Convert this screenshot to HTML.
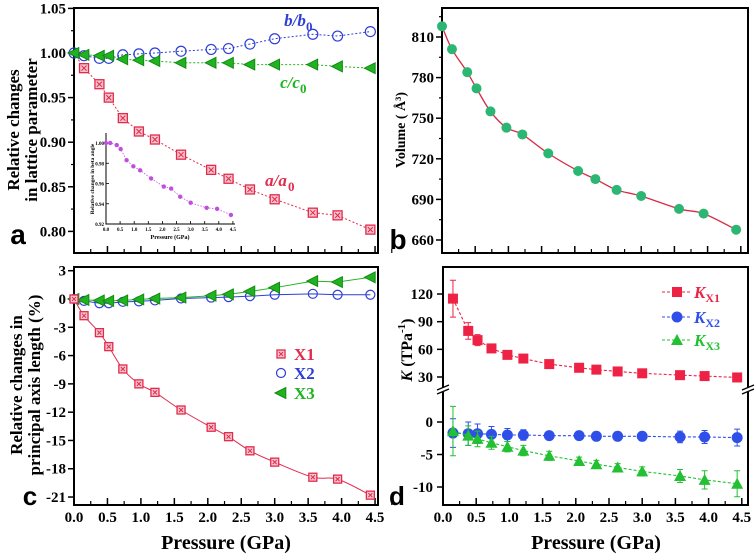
<!DOCTYPE html>
<html><head><meta charset="utf-8">
<style>
body{margin:0;background:#fff;}
svg{display:block;font-family:"Liberation Serif",serif;font-weight:bold;}
.sans{font-family:"Liberation Sans",sans-serif;}
</style></head>
<body>
<svg id="fig" width="756" height="555" viewBox="0 0 756 555" xmlns="http://www.w3.org/2000/svg"></svg>
<script>
// ---------- data ----------
const pressure = [0.15,0.38,0.52,0.73,0.97,1.21,1.6,2.05,2.31,2.63,3.0,3.57,3.94,4.43];
const pressure0 = [0].concat(pressure);
const aRel = [1.0,0.983,0.965,0.950,0.927,0.912,0.903,0.886,0.869,0.859,0.847,0.836,0.821,0.818,0.802];
const bRel = [1.0,0.997,0.994,0.994,0.998,0.999,1.0,1.002,1.004,1.005,1.010,1.016,1.021,1.019,1.024];
const cRel = [1.0,0.998,0.997,0.997,0.993,0.992,0.991,0.989,0.989,0.989,0.987,0.987,0.987,0.985,0.983];
const betaRel = [1.0,1.0,0.998,0.994,0.983,0.977,0.973,0.965,0.957,0.955,0.947,0.941,0.936,0.935,0.929];
const volume = [817.9,801,784,772,755,743,738,724,711,705,697,692.5,683,679.5,667.6];
const x1 = [0,-1.77,-3.57,-5.05,-7.42,-9.0,-9.9,-11.77,-13.6,-14.6,-16.1,-17.3,-18.9,-19.1,-20.8];
const x2 = [0,-0.2,-0.45,-0.45,-0.3,-0.25,-0.15,0.05,0.15,0.2,0.3,0.45,0.55,0.45,0.45];
const x3 = [0,-0.1,-0.15,-0.2,-0.15,-0.05,0.05,0.15,0.35,0.5,0.8,1.2,1.9,1.8,2.3];
const k1 = [115,80,70,61,54,50,44,40,38,36,34,32,31,29.5];
const k1err = [20,9,6,3,2,2,2,2,2,2,2,2,2,2];
const k2 = [-1.7,-1.8,-1.8,-1.9,-2.0,-2.0,-2.1,-2.1,-2.2,-2.2,-2.2,-2.3,-2.3,-2.4];
const k2err = [2.2,1.8,1.5,1.2,1.0,0.8,0.5,0.5,0.5,0.5,0.6,0.9,1.0,1.3];
const k3 = [-1.4,-2.1,-2.6,-3.2,-3.8,-4.4,-5.2,-6.0,-6.5,-7.0,-7.6,-8.3,-8.9,-9.5];
const k3err = [3.8,1.5,1.2,1.0,0.8,0.8,0.7,0.6,0.6,0.6,0.7,1.0,1.4,2.0];
const xTicks = [0,0.5,1,1.5,2,2.5,3,3.5,4,4.5];
const xTickLabels = ["0.0","0.5","1.0","1.5","2.0","2.5","3.0","3.5","4.0","4.5"];
const aTicks = [1.05,1.00,0.95,0.90,0.85,0.80];
const bTicks = [810,780,750,720,690,660];
const cTicks = [3,0,-3,-6,-9,-12,-15,-18,-21];
const dUpperTicks = [120,90,60,30];
const dLowerTicks = [0,-5,-10];
const insetYTicks = [1.00,0.98,0.96,0.94,0.92];
const insetXTicks = [0,0.5,1,1.5,2,2.5,3,3.5,4,4.5];

// ---------- scales ----------
const xa = p => 74 + p*66.9;
const ya = v => 53 + (1-v)/0.05*44.6;
const xb = p => 442 + p*66.4;
const yb = v => 37 + (810-v)*1.3533;
const xc = xa;
const yc = v => 299 - v*9.43;
const xd = p => 443 + p*66.4;
const yd = v => v >= 15 ? 377 - (v-30)*0.922 : 422 - v*6.5;
const xi = p => 106 + p*28.2;
const yi = v => 143 + (1-v)/0.02*20.25;

const RED="#e22a4c", BLUE="#2f3fd6", GREEN="#1fb41f", TEAL="#2bb673", PURP="#c04fe0";
const svg = document.getElementById('fig');
const NS="http://www.w3.org/2000/svg";
function mk(tag, attrs, parent){
  const e=document.createElementNS(NS,tag);
  for(const k in attrs) e.setAttribute(k,attrs[k]);
  (parent||svg).appendChild(e); return e;
}
function txt(s,x,y,size,anchor,fill,parent){
  const t=mk('text',{x:x,y:y,'font-size':size,'text-anchor':anchor||'middle',fill:fill||'#000'},parent);
  t.textContent=s; return t;
}
function smooth(pts){
  let d=`M${pts[0][0]},${pts[0][1]}`;
  for(let i=0;i<pts.length-1;i++){
    const p0=pts[Math.max(0,i-1)],p1=pts[i],p2=pts[i+1],p3=pts[Math.min(pts.length-1,i+2)];
    const c1=[p1[0]+(p2[0]-p0[0])/6,p1[1]+(p2[1]-p0[1])/6];
    const c2=[p2[0]-(p3[0]-p1[0])/6,p2[1]-(p3[1]-p1[1])/6];
    d+=` C${c1[0]},${c1[1]} ${c2[0]},${c2[1]} ${p2[0]},${p2[1]}`;
  }
  return d;
}
function poly(xs,ys,fx,fy){return xs.map((p,i)=>`${fx(p)},${fy(ys[i])}`).join(' ');}
function sqX(g,x,y,s,stroke,fill){
  mk('rect',{x:x-s/2,y:y-s/2,width:s,height:s,fill:fill,stroke:stroke,'stroke-width':1.3},g);
  mk('path',{d:`M${x-s/2+2},${y-s/2+2}L${x+s/2-2},${y+s/2-2}M${x+s/2-2},${y-s/2+2}L${x-s/2+2},${y+s/2-2}`,stroke:stroke,'stroke-width':1},g);
}
function triL(g,x,y,r,fill,stroke){
  mk('polygon',{points:`${x-r},${y} ${x+r*0.8},${y-r*0.9} ${x+r*0.8},${y+r*0.9}`,fill:fill,stroke:stroke,'stroke-width':1},g);
}
function frame(g,x0,y0,x1,y1){
  mk('rect',{x:x0,y:y0,width:x1-x0,height:y1-y0,fill:'none',stroke:'#000','stroke-width':2},g);
}
function xAxisTicks(g,fx,y,labels){
  xTicks.forEach((p,i)=>{
    mk('line',{x1:fx(p),y1:y,x2:fx(p),y2:y-7,stroke:'#000','stroke-width':1.5},g);
    mk('line',{x1:fx(p+0.25),y1:y,x2:fx(p+0.25),y2:y-4,stroke:'#000','stroke-width':1.2},g);
    if(labels) txt(xTickLabels[i],fx(p),y+17,15,'middle','#000',g);
  });
}

// ================= Panel A =================
const gA=mk('g',{});


frame(gA,74,8,378,253);
aTicks.forEach(v=>{
  mk('line',{x1:68,y1:ya(v),x2:74,y2:ya(v),stroke:'#000','stroke-width':1.5},gA);
  txt(v.toFixed(2),66,ya(v)+5,15,'end','#000',gA);
});
[1.025,0.975,0.925,0.875,0.825].forEach(v=>mk('line',{x1:71,y1:ya(v),x2:74,y2:ya(v),stroke:'#000','stroke-width':1.2},gA));
xAxisTicks(gA,xa,253,false);
const yta=mk('text',{transform:'translate(19,130) rotate(-90)','font-size':17,'text-anchor':'middle'},gA);
yta.textContent='Relative changes';

const yta2=mk('text',{transform:'translate(37,130) rotate(-90)','font-size':17,'text-anchor':'middle'},gA);
yta2.textContent='in lattice parameter';
mk('polyline',{points:poly(pressure0,bRel,xa,ya),fill:'none',stroke:BLUE,'stroke-width':1,'stroke-dasharray':'2,2'},gA);
mk('polyline',{points:poly(pressure0,cRel,xa,ya),fill:'none',stroke:GREEN,'stroke-width':1,'stroke-dasharray':'2,2'},gA);
mk('polyline',{points:poly(pressure0,aRel,xa,ya),fill:'none',stroke:RED,'stroke-width':1,'stroke-dasharray':'2,2'},gA);
pressure0.forEach((p,i)=>{
  const c=mk('circle',{cx:xa(p),cy:ya(bRel[i]),r:5,fill:'none',stroke:BLUE,'stroke-width':1.2},gA);
  
  
});
pressure0.forEach((p,i)=>{ triL(gA,xa(p),ya(cRel[i]),6,GREEN,'#138a13'); });
pressure0.forEach((p,i)=>{ if(i>0) sqX(gA,xa(p),ya(aRel[i]),9,RED,'#f6c4cd'); });
const lb=txt('b/b',295,26,17,'middle',BLUE,gA); lb.setAttribute('font-style','italic');
txt('0',306,31,13,'start',BLUE,gA);
const lc=txt('c/c',290,88,17,'middle',GREEN,gA); lc.setAttribute('font-style','italic');
txt('0',300,93,13,'start',GREEN,gA);
const la=txt('a/a',276,186,17,'middle',RED,gA); la.setAttribute('font-style','italic');
txt('0',288,191,13,'start',RED,gA);
const letA=txt('a',18,244,28,'middle','#000',gA); letA.setAttribute('class','sans');
// inset
const gI=mk('g',{},gA);


mk('path',{d:'M106,133 L106,224 L235,224',fill:'none',stroke:'#000','stroke-width':1},gI);
insetYTicks.forEach(v=>{
  mk('line',{x1:106,y1:yi(v),x2:109,y2:yi(v),stroke:'#000','stroke-width':0.8},gI);
  txt(v.toFixed(2),104,yi(v)+2,5,'end','#000',gI);
});
insetXTicks.forEach(p=>{
  mk('line',{x1:xi(p),y1:224,x2:xi(p),y2:221,stroke:'#000','stroke-width':0.8},gI);
  txt(p.toFixed(1),xi(p),231,5,'middle','#000',gI);
});
txt('Pressure (GPa)',170,239,6,'middle','#000',gI);
const yti=mk('text',{transform:'translate(94,179) rotate(-90)','font-size':5.5,'text-anchor':'middle'},gI);
yti.textContent='Relative changes in beta angle';
mk('polyline',{points:poly(pressure0,betaRel,xi,yi),fill:'none',stroke:PURP,'stroke-width':0.8,'stroke-dasharray':'1.5,1.5'},gI);
pressure0.forEach((p,i)=>mk('circle',{cx:xi(p),cy:yi(betaRel[i]),r:2.2,fill:PURP},gI));

// ================= Panel B =================
const gB=mk('g',{});


frame(gB,442,8,748,253);
bTicks.forEach(v=>{
  mk('line',{x1:436,y1:yb(v),x2:442,y2:yb(v),stroke:'#000','stroke-width':1.5},gB);
  txt(String(v),434,yb(v)+5,15,'end','#000',gB);
});
[825,795,765,735,705,675].forEach(v=>mk('line',{x1:439,y1:yb(v),x2:442,y2:yb(v),stroke:'#000','stroke-width':1.2},gB));
xAxisTicks(gB,xb,253,false);
const ytb=mk('text',{transform:'translate(405,130) rotate(-90)','font-size':14,'text-anchor':'middle'},gB);
ytb.textContent='Volume ( Å³)';

mk('path',{d:smooth(pressure0.map((p,i)=>[xb(p),yb(volume[i])])),fill:'none',stroke:'#d62a45','stroke-width':1.3},gB);
pressure0.forEach((p,i)=>{
  const c=mk('circle',{cx:xb(p),cy:yb(volume[i]),r:5,fill:TEAL},gB);
  
  
});
const letB=txt('b',398,249,28,'middle','#000',gB); letB.setAttribute('class','sans');

// ================= Panel C =================
const gC=mk('g',{});


frame(gC,74,267,378,505);
cTicks.forEach(v=>{
  mk('line',{x1:68,y1:yc(v),x2:74,y2:yc(v),stroke:'#000','stroke-width':1.5},gC);
  txt(String(v),66,yc(v)+5,15,'end','#000',gC);
});
xAxisTicks(gC,xc,505,true);
txt('Pressure (GPa)',226,549,20,'middle','#000',gC);
const ytc=mk('text',{transform:'translate(22,385) rotate(-90)','font-size':17,'text-anchor':'middle'},gC);
ytc.textContent='Relative changes in';

const ytc2=mk('text',{transform:'translate(40,385) rotate(-90)','font-size':17,'text-anchor':'middle'},gC);
ytc2.textContent='principal axis length (%)';
mk('path',{d:smooth(pressure0.map((p,i)=>[xc(p),yc(x1[i])])),fill:'none',stroke:RED,'stroke-width':1},gC);
mk('polyline',{points:poly(pressure0,x2,xc,yc),fill:'none',stroke:BLUE,'stroke-width':1},gC);
mk('polyline',{points:poly(pressure0,x3,xc,yc),fill:'none',stroke:GREEN,'stroke-width':1},gC);
pressure0.forEach((p,i)=>{
  const c=mk('circle',{cx:xc(p),cy:yc(x2[i]),r:4.5,fill:'none',stroke:BLUE,'stroke-width':1.2},gC);
  
  
});
pressure0.forEach((p,i)=>triL(gC,xc(p),yc(x3[i]),6,GREEN,'#138a13'));
pressure0.forEach((p,i)=>sqX(gC,xc(p),yc(x1[i]),8,RED,'#f6c4cd'));
// legend c
const lgC=mk('g',{},gC);


sqX(lgC,281,354,8,RED,'#f6c4cd'); txt('X1',294,360,17,'start',RED,lgC);
mk('circle',{cx:281,cy:373,r:4.5,fill:'none',stroke:BLUE,'stroke-width':1.2},lgC); txt('X2',294,379,17,'start',BLUE,lgC);
triL(lgC,281,393,6,GREEN,'#138a13'); txt('X3',294,399,17,'start',GREEN,lgC);
const letC=txt('c',30,505,26,'middle','#000',gC); letC.setAttribute('class','sans');

// ================= Panel D =================
const gD=mk('g',{});


frame(gD,443,267,748,505);
dUpperTicks.concat(dLowerTicks).forEach(v=>{
  mk('line',{x1:437,y1:yd(v),x2:443,y2:yd(v),stroke:'#000','stroke-width':1.5},gD);
  txt(String(v),433,yd(v)+5,15,'end','#000',gD);
});
xAxisTicks(gD,xd,505,true);
txt('Pressure (GPa)',596,549,20,'middle','#000',gD);
const ytd=mk('text',{transform:'translate(412,350) rotate(-90)','font-size':16,'text-anchor':'middle'},gD);

ytd.innerHTML='<tspan font-style="italic">K</tspan> (TPa<tspan font-size="11" dy="-7">-1</tspan><tspan dy="7">)</tspan>';
// axis break
[443,748].forEach(x=>{
  mk('rect',{x:x-4,y:387,width:8,height:5,fill:'#fff'},gD);
  mk('path',{d:`M${x-6},390 L${x+6},385 M${x-6},394 L${x+6},389`,stroke:'#000','stroke-width':1.3},gD);
});
function errSeries(vals,errs,col,shape,name){
  mk('polyline',{points:poly(pressure,vals,xd,yd),fill:'none',stroke:col,'stroke-width':1.1,'stroke-dasharray':'3,2'},gD);
  pressure.forEach((p,i)=>{
    const x=xd(p),yT=yd(vals[i]+errs[i]),yB=yd(vals[i]-errs[i]);
    mk('path',{d:`M${x},${yT}L${x},${yB}M${x-3},${yT}L${x+3},${yT}M${x-3},${yB}L${x+3},${yB}`,stroke:col,'stroke-width':1},gD);
    const y=yd(vals[i]); let m;
    if(shape==='sq') m=mk('rect',{x:x-5,y:y-5,width:10,height:10,fill:col},gD);
    else if(shape==='ci') m=mk('circle',{cx:x,cy:y,r:5.5,fill:col},gD);
    else m=mk('polygon',{points:`${x},${y-6} ${x-6},${y+5} ${x+6},${y+5}`,fill:col},gD);
    
    
  });
}
errSeries(k2,k2err,'#2f4fe8','ci','kx2-point');
errSeries(k3,k3err,'#22c032','tr','kx3-point');
errSeries(k1,k1err,'#ee2244','sq','kx1-point');
const lgD=mk('g',{},gD);


[['#ee2244','sq',292,'1'],['#2f4fe8','ci',317,'2'],['#22c032','tr',340,'3']].forEach(([c,s,y,n])=>{
  mk('line',{x1:662,y1:y,x2:692,y2:y,stroke:c,'stroke-width':1.1,'stroke-dasharray':'3,2'},lgD);
  if(s==='sq') mk('rect',{x:672,y:y-5,width:10,height:10,fill:c},lgD);
  else if(s==='ci') mk('circle',{cx:677,cy:y,r:5.5,fill:c},lgD);
  else mk('polygon',{points:`677,${y-6} 671,${y+5} 683,${y+5}`,fill:c},lgD);
  const t=mk('text',{x:694,y:y+6,'font-size':17,fill:c},lgD);
  t.innerHTML=`<tspan font-style="italic">K</tspan><tspan font-size="12" dy="4">X${n}</tspan>`;
});
const letD=txt('d',397,505,26,'middle','#000',gD); letD.setAttribute('class','sans');
</script>
</body></html>
